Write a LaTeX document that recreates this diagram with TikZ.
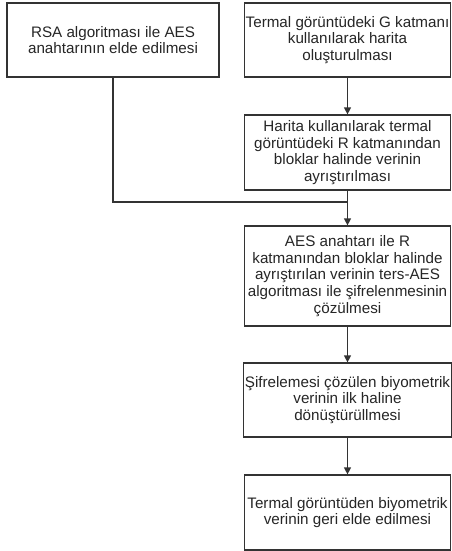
\documentclass[tikz,border=0pt]{standalone}
\usepackage{fontspec}
\setmainfont{Liberation Sans}
\usetikzlibrary{arrows.meta}
\begin{document}
\begin{tikzpicture}[x=1pt,y=-1pt,
  box/.style={draw=black!80, line width=1.2pt, fill=white, align=center, inner sep=1pt,
    font=\fontsize{15.2}{16.7}\selectfont, text=black!85},
  conn/.style={draw=black!80, line width=1.2pt, -{Triangle[length=7pt,width=7pt]}},
  plainline/.style={draw=black!80, line width=1.2pt}]
\useasboundingbox (0,0) rectangle (451,551);
\node[box, minimum width=212pt, minimum height=74pt] (rsa) at (113,40) {RSA algoritması ile AES\\anahtarının elde edilmesi};
\node[box, minimum width=206pt, minimum height=74pt] (b1) at (347.5,40) {Termal görüntüdeki G katmanı\\kullanılarak harita\\oluşturulması};
\node[box, minimum width=206pt, minimum height=75pt] (b2) at (347.5,152.5) {Harita kullanılarak termal\\görüntüdeki R katmanından\\bloklar halinde verinin\\ayrıştırılması};
\node[box, minimum width=206pt, minimum height=100pt] (b3) at (347.5,276) {AES anahtarı ile R\\katmanından bloklar halinde\\ayrıştırılan verinin ters-AES\\algoritması ile şifrelenmesinin\\çözülmesi};
\node[box, minimum width=206pt, minimum height=74pt] (b4) at (347.5,400) {Şifrelemesi çözülen biyometrik\\verinin ilk haline\\dönüştürüllmesi};
\node[box, minimum width=206pt, minimum height=75pt] (b5) at (347.5,512.5) {Termal görüntüden biyometrik\\verinin geri elde edilmesi};
\coordinate (j) at (347.5,202);
\draw[conn] (b1) -- (b2);
\draw[conn] (b2) -- (b3);
\draw[plainline] (rsa.south) |- (j);
\draw[conn] (b3) -- (b4);
\draw[conn] (b4) -- (b5);
\end{tikzpicture}
\end{document}
